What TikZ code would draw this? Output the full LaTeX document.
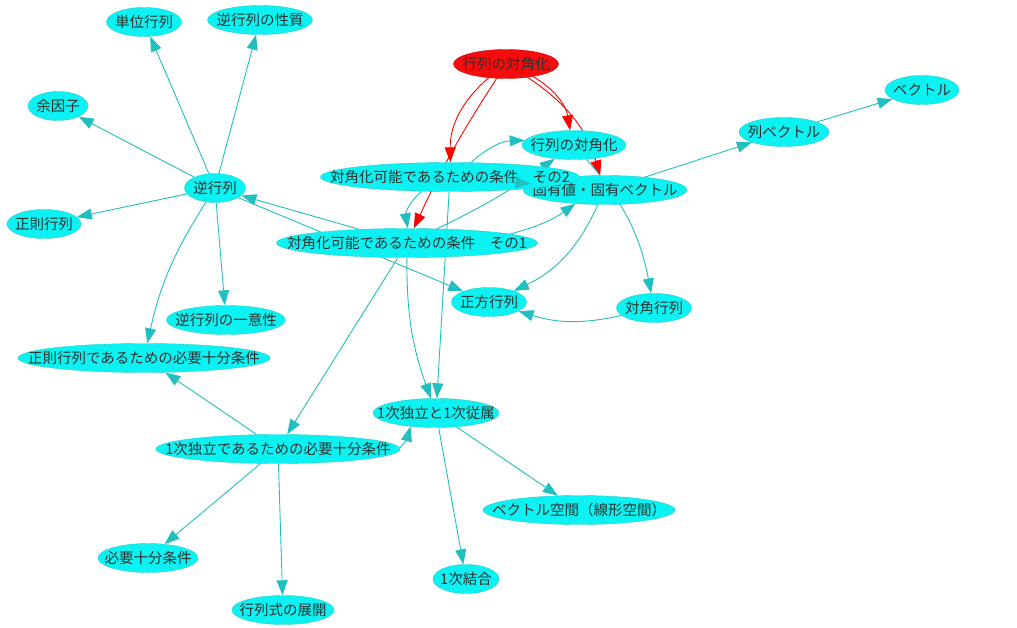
\documentclass[tikz,border=0pt]{standalone}
\usepackage{fontspec}
\setmainfont{Noto Sans CJK JP}
\usepackage{xcolor}
\usetikzlibrary{arrows.meta,shapes.geometric,backgrounds}
\definecolor{nodecyan}{HTML}{0CF2F2}
\definecolor{edgecyan}{HTML}{2CCCCE}
\definecolor{linkcyan}{HTML}{22BFC1}
\definecolor{hubred}{HTML}{F60C0C}
\definecolor{inkgray}{HTML}{303030}
\tikzset{
  topicnode/.style={ellipse,draw=edgecyan,fill=nodecyan,inner sep=0pt,minimum height=29pt,font=\fontsize{14.5}{16}\selectfont,text=inkgray},
  hubnode/.style={topicnode,draw=hubred!80!black,fill=hubred},
  linkarrow/.style={-{Triangle[length=15pt,width=11pt]},draw=linkcyan,line width=0.9pt},
  redarrow/.style={linkarrow,draw=red},
}
\newcommand{\ntext}[1]{\makebox[0pt]{#1}}

\begin{document}
\begin{tikzpicture}[x=1pt,y=-1pt]
    \useasboundingbox (0,0) rectangle (1017,628);
    \node[topicnode,minimum width=75pt] (tanni) at (144,22) {\ntext{単位行列}};
    \node[topicnode,minimum width=105pt] (seishitsu) at (260,20) {\ntext{逆行列の性質}};
    \node[topicnode,minimum width=60pt] (yoinshi) at (58,106) {\ntext{余因子}};
    \node[topicnode,minimum width=61pt] (gyaku) at (215,188) {\ntext{逆行列}};
    \node[topicnode,minimum width=74pt] (seisoku) at (44,224) {\ntext{正則行列}};
    \node[topicnode,minimum width=119pt] (ichii) at (226,320) {\ntext{逆行列の一意性}};
    \node[topicnode,minimum width=252pt] (seisokujk) at (144,358) {\ntext{正則行列であるための必要十分条件}};
    \node[topicnode,minimum width=244pt] (dokujk) at (278,449) {\ntext{1次独立であるための必要十分条件}};
    \node[topicnode,minimum width=100pt] (hitsuyo) at (148,558) {\ntext{必要十分条件}};
    \node[topicnode,minimum width=102pt] (tenkai) at (283,610) {\ntext{行列式の展開}};
    \node[topicnode,minimum width=126pt] (dokuritsu) at (436,413) {\ntext{1次独立と1次従属}};
    \node[topicnode,minimum width=192pt] (kukan) at (579,510) {\ntext{ベクトル空間（線形空間）}};
    \node[topicnode,minimum width=66pt] (ketsugo) at (466,579) {\ntext{1次結合}};
    \node[topicnode,minimum width=75pt] (seiho) at (489,302) {\ntext{正方行列}};
    \node[topicnode,minimum width=75pt] (kakugyo) at (654,308) {\ntext{対角行列}};
    \node[topicnode,minimum width=164pt] (koyu) at (605,190) {\ntext{固有値・固有ベクトル}};
    \node[topicnode,minimum width=104pt] (taikaku) at (574,145) {\ntext{行列の対角化}};
    \node[hubnode,minimum width=105pt] (taikakuR) at (506,64) {\ntext{行列の対角化}};
    \node[topicnode,minimum width=259pt] (joken2) at (450,177) {\ntext{対角化可能であるための条件　その2}};
    \node[topicnode,minimum width=261pt] (joken1) at (407,243) {\ntext{対角化可能であるための条件　その1}};
    \node[topicnode,minimum width=90pt] (retsu) at (784,132) {\ntext{列ベクトル}};
    \node[topicnode,minimum width=74pt] (vec) at (922,90) {\ntext{ベクトル}};
    \begin{scope}[on background layer]
    \fill[white] (0,0) rectangle (1017,628);
    \draw[linkarrow] (gyaku)--(tanni); \draw[linkarrow] (gyaku)--(seishitsu); \draw[linkarrow] (gyaku)--(yoinshi);
    \draw[linkarrow] (gyaku)--(seisoku); \draw[linkarrow] (gyaku)--(ichii); \draw[linkarrow] (gyaku) to[bend right=10] (seisokujk);
    \draw[linkarrow] (gyaku)--(seiho); \draw[linkarrow] (joken1)--(gyaku);
    \draw[redarrow] (taikakuR) to[bend right=25] (joken2); \draw[redarrow] (taikakuR) to[bend right=4] (joken1);
    \draw[redarrow] (taikakuR) to[bend left=25] (taikaku); \draw[redarrow] (taikakuR) to[bend left=20] (koyu);
    \draw[linkarrow] (joken2) to[bend left=20] (taikaku); \draw[linkarrow] (joken2) to[bend right=30] (joken1);
    \draw[linkarrow] (joken2)--(dokuritsu);
    \draw[linkarrow] (joken1) to[bend right=5] (taikaku); \draw[linkarrow] (joken1) to[bend right=10] (koyu);
    \draw[linkarrow] (joken1) to[bend right=10] (dokuritsu); \draw[linkarrow] (joken1)--(dokujk);
    \draw[linkarrow] (koyu)--(retsu); \draw[linkarrow] (retsu)--(vec);
    \draw[linkarrow] (koyu) to[bend left=20] (seiho); \draw[linkarrow] (taikaku) to[bend left=15] (kakugyo);
    \draw[linkarrow] (kakugyo) to[bend left=15] (seiho);
    \draw[linkarrow] (dokujk)--(seisokujk); \draw[linkarrow] (dokujk) to[bend right=15] (dokuritsu);
    \draw[linkarrow] (dokujk)--(hitsuyo); \draw[linkarrow] (dokujk)--(tenkai);
    \draw[linkarrow] (dokuritsu)--(ketsugo); \draw[linkarrow] (dokuritsu)--(kukan);
    \end{scope}
    \draw[linkarrow,shorten <=58pt] (joken2.center)--(koyu);
  \end{tikzpicture}
\end{document}
